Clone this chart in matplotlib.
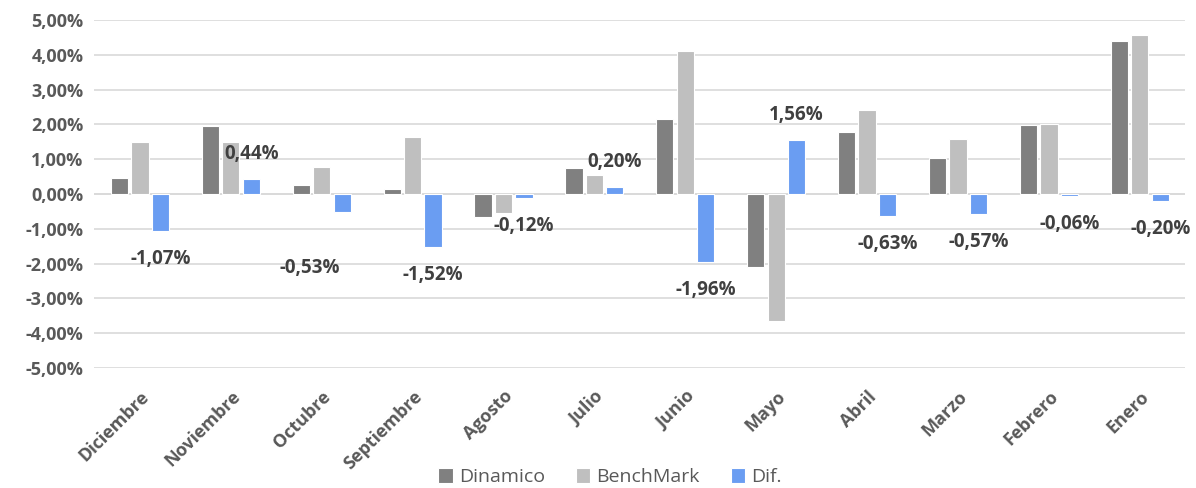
import matplotlib
matplotlib.use('Agg')
import matplotlib.pyplot as plt
import numpy as np

# monthly returns (%)
months = ['Diciembre', 'Noviembre', 'Octubre', 'Septiembre', 'Agosto', 'Julio',
          'Junio', 'Mayo', 'Abril', 'Marzo', 'Febrero', 'Enero']
dinamico = [0.45, 1.95, 0.27, 0.13, -0.67, 0.75, 2.15, -2.10, 1.78, 1.03, 1.97, 4.40]
benchmark = [1.48, 1.48, 0.78, 1.65, -0.55, 0.55, 4.10, -3.65, 2.40, 1.58, 2.00, 4.58]
dif = [-1.07, 0.44, -0.53, -1.52, -0.12, 0.20, -1.96, 1.56, -0.63, -0.57, -0.06, -0.20]

plt.rcParams['font.family'] = ['Open Sans', 'DejaVu Sans']

fig = plt.figure(figsize=(11.96, 4.88), dpi=100)
ax = fig.add_axes([0.079, 0.246, 0.912, 0.713])

x = np.arange(len(months))
w = 0.19
step = 0.225
ax.bar(x - step, dinamico, w, color='#808080', edgecolor='white', linewidth=0.8, label='Dinamico', zorder=3)
ax.bar(x, benchmark, w, color='#bfbfbf', edgecolor='white', linewidth=0.8, label='BenchMark', zorder=3)
ax.bar(x + step, dif, w, color='#6a9df2', edgecolor='white', linewidth=0.8, label='Dif.', zorder=3)

# data labels for Dif.
for i, v in enumerate(dif):
    dx, dy = 0, (18 if v >= 0 else -20)
    if months[i] == 'Octubre':
        dx, dy = -23, -40
    ax.annotate(('%.2f%%' % v).replace('.', ','), (x[i] + step, v),
                xytext=(dx, dy), textcoords='offset points',
                ha='center', va='center', fontsize=13.5, fontweight='bold',
                color='#404040', zorder=4)

ax.set_ylim(-5, 5)
ax.set_xlim(-0.5, len(months) - 0.5)
yt = np.arange(-5, 6, 1)
ax.set_yticks(yt)
ax.set_yticklabels([('%.2f%%' % t).replace('.', ',') for t in yt],
                   fontsize=13, fontweight='bold', color='#595959')
ax.set_xticks(x)
ax.set_xticklabels(months, rotation=45, ha='right', rotation_mode='anchor',
                   fontsize=13, fontweight='bold', color='#595959')
ax.tick_params(length=0, pad=8)
ax.tick_params(axis='x', pad=14)
ax.grid(axis='y', color='#d9d9d9', linewidth=1.2, zorder=0)
ax.axhline(0, color='#d9d9d9', linewidth=1.2, zorder=1)
for s in ax.spines.values():
    s.set_visible(False)

fig.legend(loc='center', bbox_to_anchor=(0.51, 0.022), ncol=3, frameon=False,
           fontsize=14, labelcolor='#595959', handlelength=0.75, handleheight=0.75,
           handletextpad=0.3, columnspacing=1.6)

fig.savefig('out.png', dpi=100)
